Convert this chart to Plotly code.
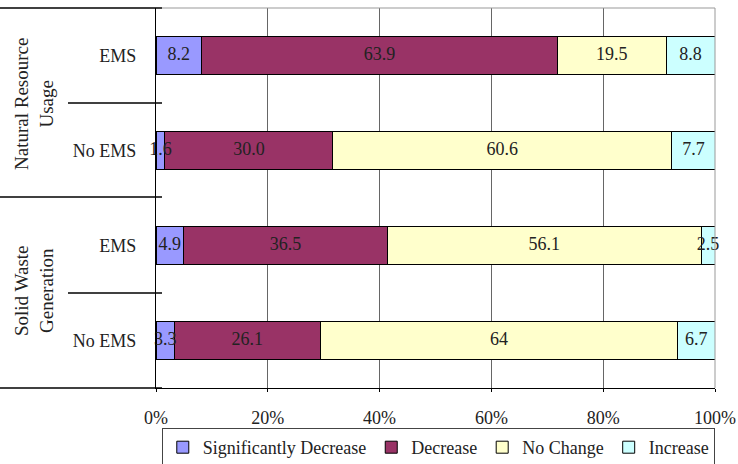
import plotly.graph_objects as go

# categories, top to bottom
rows = ["NR_EMS", "NR_NoEMS", "SW_EMS", "SW_NoEMS"]
row_labels = ["EMS", "No EMS", "EMS", "No EMS"]

series = ["Significantly Decrease", "Decrease", "No Change", "Increase"]
sig_dec = [8.2, 1.6, 4.9, 3.3]
dec = [63.9, 30.0, 36.5, 26.1]
no_change = [19.5, 60.6, 56.1, 64]
increase = [8.8, 7.7, 2.5, 6.7]
labels = [
    ["8.2", "1.6", "4.9", "3.3"],
    ["63.9", "30.0", "36.5", "26.1"],
    ["19.5", "60.6", "56.1", "64"],
    ["8.8", "7.7", "2.5", "6.7"],
]
colors = ["#9999FF", "#993366", "#FFFFCC", "#CCFFFF"]
x_ticks = [0, 20, 40, 60, 80, 100]

FONT = "Liberation Serif"
TXT = "#222222"
FS = 18

values = [sig_dec, dec, no_change, increase]

fig = go.Figure()
for name, vals, col in zip(series, values, colors):
    fig.add_trace(go.Bar(
        y=rows, x=vals, name=name, orientation="h",
        marker=dict(color=col, line=dict(color="black", width=1)),
    ))

# data labels on top of all bars (centre of each segment, 100% normalised)
totals = [sum(v[i] for v in values) for i in range(len(rows))]
cum = [0.0] * len(rows)
for vals, txt in zip(values, labels):
    mids = []
    for i, v in enumerate(vals):
        mids.append((cum[i] + v / 2) / totals[i] * 100)
        cum[i] += v
    fig.add_trace(go.Scatter(
        x=mids, y=rows, mode="text", text=txt, showlegend=False,
        textfont=dict(family=FONT, size=FS, color=TXT), cliponaxis=False,
        hoverinfo="skip",
    ))

W, H = 738, 464
L, R, T, B = 156, 23, 8, 76
pw, ph = W - L - R, H - T - B


def px(x):
    return (x - L) / pw


def py(y):
    return (H - B - y) / ph


# table-like separator lines on the left
shapes = []
for y0, x0 in [(8, 0), (103, 68), (197, 0), (293, 68), (388, 0)]:
    shapes.append(dict(type="line", xref="paper", yref="paper",
                       x0=px(x0), x1=px(162), y0=py(y0), y1=py(y0),
                       line=dict(color="black", width=1.3)))
# gray top and right frame
shapes.append(dict(type="line", xref="paper", yref="paper", x0=px(162), x1=1, y0=1, y1=1,
                   line=dict(color="#999999", width=1)))
shapes.append(dict(type="line", xref="paper", yref="paper", x0=1, x1=1, y0=0, y1=1,
                   line=dict(color="#999999", width=1)))

annotations = [
    dict(text="Natural Resource<br>Usage", x=px(34), y=py(104), xref="paper", yref="paper",
         xanchor="center", yanchor="middle", textangle=-90, showarrow=False,
         font=dict(family=FONT, size=19, color=TXT)),
    dict(text="Solid Waste<br>Generation", x=px(34), y=py(291), xref="paper", yref="paper",
         xanchor="center", yanchor="middle", textangle=-90, showarrow=False,
         font=dict(family=FONT, size=19, color=TXT)),
]

fig.update_layout(
    width=W, height=H,
    margin=dict(l=L, r=R, t=T, b=B, autoexpand=False),
    barmode="stack", barnorm="percent", bargap=0.6,
    paper_bgcolor="white", plot_bgcolor="white",
    font=dict(family=FONT, size=FS, color=TXT),
    shapes=shapes, annotations=annotations,
    legend=dict(orientation="h", x=0.505, xanchor="center", y=py(428), yanchor="top",
                bordercolor="#444444", borderwidth=1, traceorder="normal",
                font=dict(family=FONT, size=FS, color=TXT), itemwidth=30),
)
fig.update_xaxes(range=[0, 100], tickvals=x_ticks, ticktext=[f"{t}%" for t in x_ticks],
                 showgrid=True, gridcolor="#666666", gridwidth=1, zeroline=False,
                 showline=True, linecolor="black", linewidth=1.3,
                 ticks="outside", ticklen=3, tickcolor="black",
                 ticklabelstandoff=10)
fig.update_yaxes(categoryorder="array", categoryarray=rows[::-1], autorange=False,
                 range=[-0.5, 3.5], tickvals=rows, ticktext=row_labels,
                 showline=True, linecolor="black", linewidth=1.3,
                 ticks="", ticklabelstandoff=15, showgrid=False)

# drop the default page margin so the figure sits at the window's corner
fig.write_html("out.html", config={"displayModeBar": False},
               post_script="document.body.style.margin='0';")
